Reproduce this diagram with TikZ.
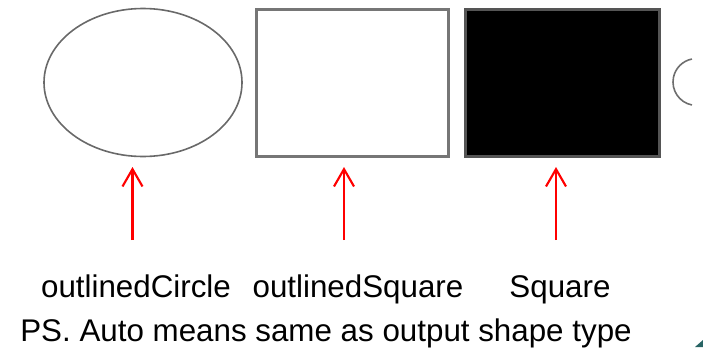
\documentclass[tikz,border=0pt]{standalone}
\usepackage{fontspec}
\setmainfont{Liberation Sans}
\usetikzlibrary{arrows.meta}

\begin{document}
\begin{tikzpicture}[x=0.75pt,y=0.75pt,yscale=-1,xscale=1,
  redarrow/.style={color={rgb, 255:red, 255; green, 0; blue, 0 }, line width=1.6, -{Straight Barb[length=13,width=15,line width=1.6]}},
  shapetext/.style={anchor=base, inner sep=0.75pt, font=\fontsize{23.5}{28}\selectfont}]
\useasboundingbox (0,0) rectangle (703,347);

%Shape: Ellipse
\draw [color={rgb, 255:red, 105; green, 105; blue, 105 }, line width=1.2] (143,82.5) ellipse [x radius=99, y radius=74];
%Shape: Rectangle
\draw [color={rgb, 255:red, 118; green, 118; blue, 118 }, line width=2.6] (256.5,9.5) rectangle (448.5,156.5);
%Shape: Rectangle
\draw [color={rgb, 255:red, 85; green, 85; blue, 85 }, fill=black, line width=2.6] (465.5,9.5) rectangle (659.5,156.5);
%Curve Lines
\draw [color={rgb, 255:red, 110; green, 110; blue, 110 }, line width=1.2] (696.4,82) ++(101:23.4) arc [start angle=101, end angle=259, radius=23.4];
%Shape: Triangle
\fill [color={rgb, 255:red, 40; green, 100; blue, 100 }] (695,347) -- (703,340) -- (703,347) -- cycle;

%Straight Lines
\coordinate (tailcircle) at (132.5,240);
\coordinate (headcircle) at (132.5,167);
\draw [redarrow] (tailcircle) -- (headcircle);
%Straight Lines
\coordinate (tailoutlined) at (344,240);
\coordinate (headoutlined) at (344,167);
\draw [redarrow] (tailoutlined) -- (headoutlined);
%Straight Lines
\coordinate (tailsquare) at (556,240);
\coordinate (headsquare) at (556,167);
\draw [redarrow] (tailsquare) -- (headsquare);

% Text Node
\draw (136,297) node [shapetext] (lblcircle) {outlinedCircle};
% Text Node
\draw (358,297) node [shapetext] (lbloutlined) {outlinedSquare};
% Text Node
\draw (560,297) node [shapetext] (lblsquare) {Square};
% Text Node
\draw (326,341) node [shapetext] (lblnote) {PS. Auto means same as output shape type};
\end{tikzpicture}
\end{document}
